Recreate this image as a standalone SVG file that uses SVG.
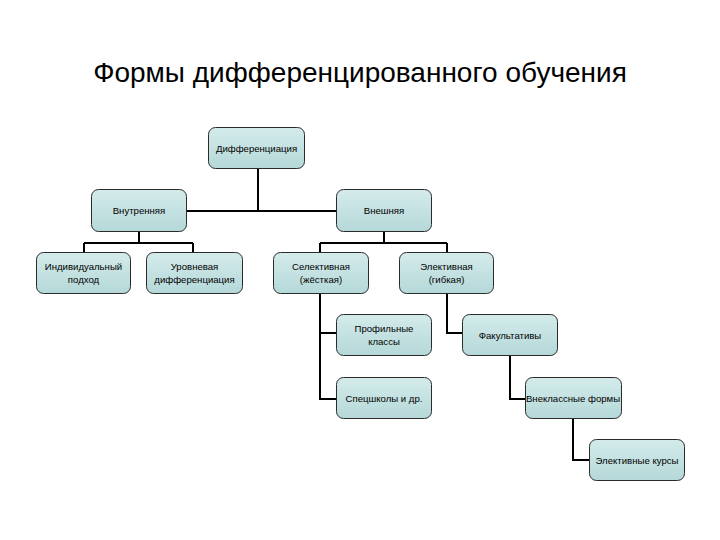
<svg xmlns="http://www.w3.org/2000/svg" width="720" height="540" viewBox="0 0 720 540">
<defs>
<linearGradient id="g" x1="0" y1="0" x2="0" y2="1">
<stop offset="0" stop-color="#d4ebeb"/>
<stop offset="1" stop-color="#b5d8d8"/>
</linearGradient>
<style>
.box{fill:url(#g);stroke:#2b2b2b;stroke-width:1}
.t{font-family:"Liberation Sans",Arial,sans-serif;font-size:9.6px;fill:#000;text-anchor:middle}
.title{font-family:"Liberation Sans",Arial,sans-serif;font-size:28px;fill:#000;text-anchor:middle}
.c{stroke:#000;stroke-width:2;fill:none}
</style>
</defs>
<rect width="720" height="540" fill="#fff"/>
<text class="title" x="360" y="82">Формы дифференцированного обучения</text>
<g id="connectors">
<path class="c" d="M258,168 V211 M186,211 H337"/>
<path class="c" d="M139,231 V243 M84,243 H193 M84,243 V253 M193,243 V253"/>
<path class="c" d="M384,231 V243 M320,243 H447 M320,243 V253 M447,243 V253"/>
<path class="c" d="M320,293 V399 H337 M320,333 H337"/>
<path class="c" d="M447,293 V333 H463"/>
<path class="c" d="M510,355 V399 H526"/>
<path class="c" d="M573,418 V460 H590"/>
</g>
<g id="n1"><rect class="box" x="208.5" y="127.5" width="96" height="41" rx="7"/><text class="t" x="256.5" y="152">Дифференциация</text></g>
<g id="n2"><rect class="box" x="91.5" y="189.5" width="95" height="42" rx="7"/><text class="t" x="139" y="214">Внутренняя</text></g>
<g id="n3"><rect class="box" x="336.5" y="189.5" width="95" height="42" rx="7"/><text class="t" x="384" y="214">Внешняя</text></g>
<g id="n4"><rect class="box" x="36.5" y="252.5" width="94" height="41" rx="7"/><text class="t" x="83.5" y="270">Индивидуальный</text><text class="t" x="83.5" y="283">подход</text></g>
<g id="n5"><rect class="box" x="146.5" y="252.5" width="96" height="41" rx="7"/><text class="t" x="194.5" y="270">Уровневая</text><text class="t" x="194.5" y="283">дифференциация</text></g>
<g id="n6"><rect class="box" x="273.5" y="252.5" width="95" height="41" rx="7"/><text class="t" x="321" y="270">Селективная</text><text class="t" x="321" y="283">(жёсткая)</text></g>
<g id="n7"><rect class="box" x="399.5" y="252.5" width="94" height="41" rx="7"/><text class="t" x="446.5" y="270">Элективная</text><text class="t" x="446.5" y="283">(гибкая)</text></g>
<g id="n8"><rect class="box" x="336.5" y="314.5" width="95" height="41" rx="7"/><text class="t" x="384" y="332">Профильные</text><text class="t" x="384" y="345">классы</text></g>
<g id="n9"><rect class="box" x="336.5" y="377.5" width="95" height="41" rx="7"/><text class="t" x="384" y="401.5">Спецшколы и др.</text></g>
<g id="n10"><rect class="box" x="462.5" y="314.5" width="95" height="41" rx="7"/><text class="t" x="510" y="339">Факультативы</text></g>
<g id="n11"><rect class="box" x="525.5" y="377.5" width="96" height="41" rx="7"/><text class="t" x="573" y="401.5">Внеклассные формы</text></g>
<g id="n12"><rect class="box" x="589.5" y="439.5" width="95" height="41" rx="7"/><text class="t" x="637" y="463.5">Элективные курсы</text></g>
</svg>
